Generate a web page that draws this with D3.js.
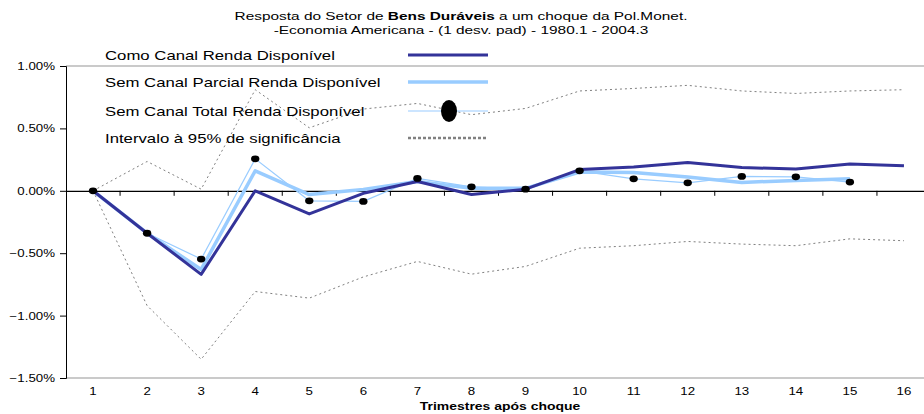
<!DOCTYPE html>
<meta charset="utf-8">
<style>
body { margin: 0; background: #fff; }
text { font-family: "Liberation Sans", Arial, sans-serif; }
</style>
<body>
<script src="https://cdn.jsdelivr.net/npm/d3@7"></script>
<script>
var width = 924, height = 414;
var SX = 1.33; // the original picture is stretched horizontally

// trimestres after the shock
var quarters = d3.range(1, 17);

// impulse responses (% deviation)
var comoCanal = [0, -0.34, -0.67, 0.00, -0.185, -0.02, 0.075, -0.03, 0.013, 0.17, 0.19, 0.227, 0.187, 0.174, 0.214, 0.20];
var semParcial = [0, -0.34, -0.63, 0.16, -0.03, 0.01, 0.075, 0.02, 0.02, 0.15, 0.147, 0.11, 0.067, 0.083, 0.096];
var semTotal = [0, -0.34, -0.547, 0.256, -0.08, -0.085, 0.099, 0.032, 0.013, 0.16, 0.096, 0.064, 0.115, 0.112, 0.07];
var upperBand = [0, 0.235, 0.013, 0.81, 0.505, 0.655, 0.70, 0.61, 0.66, 0.80, 0.82, 0.845, 0.80, 0.78, 0.80, 0.81];
var lowerBand = [0, -0.92, -1.35, -0.807, -0.86, -0.69, -0.566, -0.668, -0.606, -0.46, -0.44, -0.406, -0.427, -0.44, -0.385, -0.40];

var yTicks = [1.0, 0.5, 0, -0.5, -1.0, -1.5];
var legendLabels = ["Como Canal Renda Disponível", "Sem Canal Parcial Renda Disponível",
                    "Sem Canal Total Renda Disponível", "Intervalo à 95% de significância"];

var dark = "#333399", light = "#99ccff", gray = "#808080";

var svg = d3.select("body").append("svg")
    .attr("width", width)
    .attr("height", height);

var x = d3.scaleBand().domain(quarters).range([66, 931]);
var y = d3.scaleLinear().domain([-1.5, 1.0]).range([378, 66]);
var cx = function(i) { return x(quarters[i]) + x.bandwidth() / 2; };

// places a text at (px,py) widened by SX
function stretched(sel, px, py) {
  return sel.attr("x", 0).attr("y", 0)
      .attr("transform", "translate(" + px + "," + py + ") scale(" + SX + ",1)");
}

// title
var title = stretched(svg.append("text"), 461, 20)
    .attr("text-anchor", "middle").style("font-size", "11.6px");
title.append("tspan").text("Resposta do Setor de ");
title.append("tspan").attr("font-weight", "bold").text("Bens Duráveis");
title.append("tspan").text(" a um choque da Pol.Monet.");
stretched(svg.append("text"), 461, 34)
    .attr("text-anchor", "middle").style("font-size", "11.6px")
    .text("-Economia Americana - (1 desv. pad) - 1980.1 - 2004.3");

// plot frame (top and bottom border)
svg.append("line").attr("x1", 66).attr("x2", width).attr("y1", y(1)).attr("y2", y(1))
    .attr("stroke", "#b8b8b8").attr("stroke-width", 1.5);
svg.append("line").attr("x1", 66).attr("x2", width).attr("y1", y(-1.5)).attr("y2", y(-1.5))
    .attr("stroke", "#b8b8b8").attr("stroke-width", 1.5);

// y axis
var yAxis = svg.append("g").attr("transform", "translate(66,0)")
    .call(d3.axisLeft(y).tickValues(yTicks).tickSize(6).tickPadding(5)
        .tickFormat(function(d) { return d3.format(".2f")(d) + "%"; }));
yAxis.select(".domain").attr("stroke", "#000");
yAxis.selectAll("text").each(function(d) {
  stretched(d3.select(this), -11, 3.5).attr("dy", null).style("font-size", "10px");
});

// zero line with category ticks
var xAxis = svg.append("g").attr("transform", "translate(0," + y(0) + ")")
    .call(d3.axisBottom(x).tickSize(0).tickFormat(""));
xAxis.select(".domain").attr("stroke", "#000").attr("stroke-width", 1.2);
xAxis.selectAll(".sep").data(d3.range(1, 16)).enter().append("line")
    .attr("x1", function(d) { return 66 + d * x.step(); })
    .attr("x2", function(d) { return 66 + d * x.step(); })
    .attr("y1", 0).attr("y2", 5).attr("stroke", "#000");

// category labels below the plot
svg.selectAll(".xl").data(quarters).enter().append("text")
    .each(function(d) { stretched(d3.select(this), x(d) + x.bandwidth() / 2, 395); })
    .attr("text-anchor", "middle").style("font-size", "10px")
    .text(function(d) { return d; });
stretched(svg.append("text"), 500, 410).attr("text-anchor", "middle")
    .style("font-size", "10.5px").attr("font-weight", "bold").text("Trimestres após choque");

var line = d3.line().x(function(d, i) { return cx(i); }).y(function(d) { return y(d); });

// confidence bands
[upperBand, lowerBand].forEach(function(s) {
  svg.append("path").attr("d", line(s)).attr("fill", "none")
      .attr("stroke", gray).attr("stroke-width", 1).attr("stroke-dasharray", "2,3");
});

svg.append("path").attr("d", line(semTotal)).attr("fill", "none")
    .attr("stroke", light).attr("stroke-width", 1.2);
svg.append("path").attr("d", line(semParcial)).attr("fill", "none")
    .attr("stroke", light).attr("stroke-width", 3.5).attr("stroke-linejoin", "round");
svg.append("path").attr("d", line(comoCanal)).attr("fill", "none")
    .attr("stroke", dark).attr("stroke-width", 3).attr("stroke-linejoin", "round");

svg.selectAll(".dot").data(semTotal).enter().append("ellipse")
    .attr("cx", function(d, i) { return cx(i); })
    .attr("cy", function(d) { return y(d); })
    .attr("rx", 4.2).attr("ry", 3.4).attr("fill", "#000");

// legend
var lg = svg.selectAll(".legend").data(legendLabels).enter().append("g")
    .attr("transform", function(d, i) { return "translate(0," + [55, 82, 111, 138][i] + ")"; });
lg.append("text").each(function() { stretched(d3.select(this), 105, 4.5); })
    .style("font-size", "12.6px")
    .text(function(d) { return d; });
lg.each(function(d, i) {
  var g = d3.select(this);
  if (i == 0) g.append("line").attr("x1", 408).attr("x2", 488).attr("stroke", dark).attr("stroke-width", 3);
  if (i == 1) g.append("line").attr("x1", 408).attr("x2", 488).attr("stroke", light).attr("stroke-width", 3.5);
  if (i == 2) {
    g.append("line").attr("x1", 408).attr("x2", 488).attr("stroke", light).attr("stroke-width", 1.2);
    g.append("ellipse").attr("cx", 449).attr("cy", 0).attr("rx", 8).attr("ry", 11).attr("fill", "#000");
  }
  if (i == 3) g.append("line").attr("x1", 408).attr("x2", 488).attr("stroke", gray)
      .attr("stroke-width", 2.5).attr("stroke-dasharray", "3,2");
});
</script>
